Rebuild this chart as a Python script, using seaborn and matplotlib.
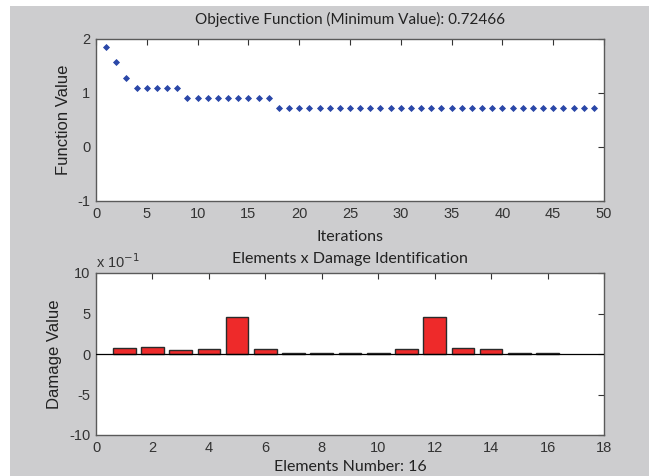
import numpy as np
import pandas as pd
import matplotlib
matplotlib.use("Agg")
import matplotlib.pyplot as plt
import seaborn as sns
from matplotlib.patches import Rectangle

# valores de la funcion objetivo por iteracion
iterations = list(range(1, 50))
function_values = [1.85, 1.57, 1.27] + [1.09] * 5 + [0.91] * 9 + [0.72466] * 32

# dano por elemento (en unidades de 10^-1)
elements = list(range(1, 17))
damage = [0.69, 0.85, 0.45, 0.60, 4.60, 0.60, 0.12, 0.12, 0.12, 0.12,
          0.57, 4.60, 0.69, 0.57, 0.10, 0.10]

sns.set_style("white")
plt.rcParams['font.family'] = ['Liberation Sans', 'DejaVu Sans']
plt.rcParams['axes.unicode_minus'] = False
label_font = ['Lato', 'DejaVu Sans']
tick_color = '#333333'
text_color = '#222222'
spine_color = '#5a5a5a'

fig = plt.figure(figsize=(6.49, 4.76), dpi=100, facecolor='white')
fig.patches.append(Rectangle((10 / 649, 0), 1, 1 - 6 / 476, transform=fig.transFigure,
                             facecolor='#cdcdcf', edgecolor='none', zorder=-10))

ax1 = fig.add_axes([96 / 649, 1 - 201 / 476, 508 / 649, 162 / 476])
ax2 = fig.add_axes([96 / 649, 1 - 435 / 476, 508 / 649, 162 / 476])

df_obj = pd.DataFrame({'Iterations': iterations, 'Function Value': function_values})
sns.scatterplot(data=df_obj, x='Iterations', y='Function Value', ax=ax1,
                marker='D', s=9, color='#2b48a8', edgecolor='#2b48a8', linewidth=0.6)
ax1.set_xlim(0, 50)
ax1.set_ylim(-1, 2)
ax1.set_xticks(np.arange(0, 51, 5))
ax1.set_yticks([-1, 0, 1, 2])
ax1.set_title('Objective Function (Minimum Value): 0.72466', family=label_font,
              fontsize=11, color=text_color, pad=11)
ax1.set_xlabel('Iterations', family=label_font, fontsize=11.5, color=text_color, labelpad=7)
ax1.set_ylabel('Function Value', fontsize=12, color=text_color, labelpad=5)

df_dmg = pd.DataFrame({'Element': elements, 'Damage': damage})
sns.barplot(data=df_dmg, x='Element', y='Damage', ax=ax2, native_scale=True,
            color='#ee2a2a', saturation=1, edgecolor='#2a2a2a', linewidth=1.0, width=0.8)
ax2.axhline(0, color='black', lw=0.9, zorder=3)
ax2.set_xlim(0, 18)
ax2.set_ylim(-10, 10)
ax2.set_xticks(np.arange(0, 19, 2))
ax2.set_yticks([-10, -5, 0, 5, 10])
ax2.set_title('Elements x Damage Identification', family=label_font,
              fontsize=11.5, color=text_color, pad=7)
ax2.set_xlabel('Elements Number: 16', family=label_font, fontsize=11.5, color=text_color, labelpad=4)
ax2.set_ylabel('Damage Value', fontsize=12, color=text_color, labelpad=5)
ax2.text(0.0, 1.01, r'x 10$^{-1}$', transform=ax2.transAxes, fontsize=10.5,
         color=tick_color, ha='left', va='bottom')

for ax in (ax1, ax2):
    ax.set_facecolor('white')
    ax.tick_params(direction='in', length=4, width=0.8, top=True, right=True,
                   labelsize=10.5, colors=tick_color, pad=4)
    for s in ax.spines.values():
        s.set_visible(True)
        s.set_color(spine_color)
        s.set_linewidth(1.0)

fig.savefig('out.png', dpi=100, facecolor=fig.get_facecolor())
